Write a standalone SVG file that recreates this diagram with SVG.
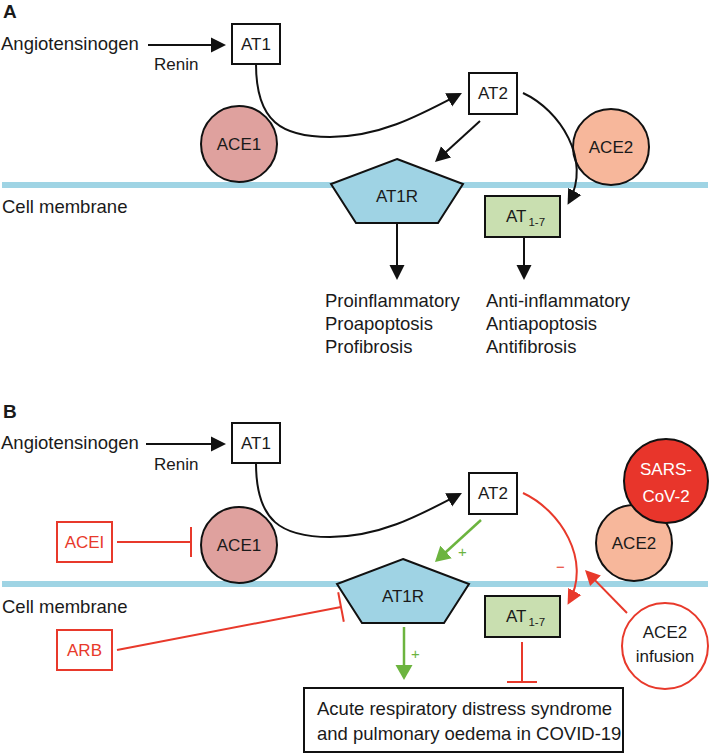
<svg xmlns="http://www.w3.org/2000/svg" width="710" height="754" viewBox="0 0 710 754">
<style>
text{font-family:"Liberation Sans",Arial,sans-serif;font-size:18.5px;fill:#1a1a1a}
.lbl{font-weight:bold;font-size:19px}
.c{text-anchor:middle}
.n{font-size:17px}
.s{font-size:11.5px}
.red{fill:#e8392b}
.grn{fill:#6cb43f}
.wht{fill:#ffffff}
.box{fill:#ffffff;stroke:#111;stroke-width:2}
.line{fill:none;stroke:#111;stroke-width:2}
.rline{fill:none;stroke:#e8392b;stroke-width:2}
.gline{fill:none;stroke:#6cb43f;stroke-width:2.5}
.mem{stroke:#9fd4e4;stroke-width:6}
</style>
<defs>
<marker id="ab" viewBox="0 0 16 16" markerUnits="userSpaceOnUse" markerWidth="16" markerHeight="16" refX="12" refY="8" orient="auto"><path d="M0,0.5 L15,8 L0,15.5 z" fill="#111"/></marker>
<marker id="ar" viewBox="0 0 16 16" markerUnits="userSpaceOnUse" markerWidth="16" markerHeight="16" refX="12" refY="8" orient="auto"><path d="M0,0.5 L15,8 L0,15.5 z" fill="#e8392b"/></marker>
<marker id="ag" viewBox="0 0 16 18" markerUnits="userSpaceOnUse" markerWidth="16" markerHeight="18" refX="12" refY="9" orient="auto"><path d="M0,0.5 L15,9 L0,17.5 z" fill="#6cb43f"/></marker>
</defs>

<!-- Panel A -->
<text class="lbl" x="3" y="18">A</text>
<line class="mem" x1="2" y1="185" x2="708" y2="185"/>
<text x="2" y="213">Cell membrane</text>

<g id="a-angiotensinogen"><text x="1" y="50">Angiotensinogen</text></g>
<g id="a-renin"><text x="154" y="70" style="font-size:17px">Renin</text></g>
<g id="a-at1"><rect class="box" x="232" y="24" width="48" height="40"/><text class="c n" x="256" y="50">AT1</text></g>
<g id="a-at2"><rect class="box" x="469" y="73" width="48" height="41"/><text class="c n" x="493" y="99">AT2</text></g>
<g id="a-ace1"><circle cx="239" cy="144" r="38" fill="#dfa19e" stroke="#111" stroke-width="2"/><text class="c n" x="239" y="150">ACE1</text></g>
<g id="a-ace2"><circle cx="611" cy="147" r="38" fill="#f7b79b" stroke="#111" stroke-width="2"/><text class="c n" x="611" y="153">ACE2</text></g>
<g id="a-at1r"><polygon points="397,159 463,184 438,223 356,223 331,184" fill="#9fd3e4" stroke="#111" stroke-width="2"/><text class="c n" x="397" y="202">AT1R</text></g>
<g id="a-at17"><rect x="485" y="196" width="75" height="41" fill="#c9dfb0" stroke="#111" stroke-width="2"/><text class="n" x="506" y="222">AT<tspan class="s" dx="2" dy="4">1-7</tspan></text></g>
<g id="a-pro"><text x="325" y="307">Proinflammatory</text><text x="325" y="330">Proapoptosis</text><text x="325" y="353">Profibrosis</text></g>
<g id="a-anti"><text x="486" y="307">Anti-inflammatory</text><text x="486" y="330">Antiapoptosis</text><text x="486" y="353">Antifibrosis</text></g>

<g id="a-connectors">
<line class="line" x1="148" y1="45" x2="223" y2="45" marker-end="url(#ab)"/>
<path class="line" d="M256,64 C256,122 282,137 330,137 C380,137 420,115 459.3,94.4" marker-end="url(#ab)"/>
<line class="line" x1="480" y1="121" x2="437.2" y2="160" marker-end="url(#ab)"/>
<path class="line" d="M523,93 C560,110 592,160 569,202" marker-end="url(#ab)"/>
<line class="line" x1="397" y1="223" x2="397" y2="277" marker-end="url(#ab)"/>
<line class="line" x1="524" y1="237" x2="524" y2="277" marker-end="url(#ab)"/>
</g>

<!-- Panel B -->
<text class="lbl" x="3" y="418">B</text>
<line class="mem" x1="2" y1="584" x2="708" y2="584"/>
<text x="2" y="613">Cell membrane</text>

<g id="b-angiotensinogen"><text x="1" y="449">Angiotensinogen</text></g>
<g id="b-renin"><text x="154" y="470" style="font-size:17px">Renin</text></g>
<g id="b-at1"><rect class="box" x="232" y="423" width="48" height="40"/><text class="c n" x="256" y="449">AT1</text></g>
<g id="b-at2"><rect class="box" x="469" y="473" width="48" height="41"/><text class="c n" x="493" y="499">AT2</text></g>
<g id="b-ace1"><circle cx="239" cy="545" r="38" fill="#dfa19e" stroke="#111" stroke-width="2"/><text class="c n" x="239" y="551">ACE1</text></g>
<g id="b-ace2"><circle cx="634" cy="543" r="38" fill="#f7b79b" stroke="#111" stroke-width="2"/><text class="c n" x="634" y="549">ACE2</text></g>
<g id="b-sars"><circle cx="666" cy="481" r="42" fill="#e8352b" stroke="#111" stroke-width="2"/><text class="c n wht" x="666" y="475">SARS-</text><text class="c n wht" x="666" y="502">CoV-2</text></g>
<g id="b-acei"><rect x="57" y="522" width="55" height="40" fill="#fff" stroke="#e8392b" stroke-width="2"/><text class="c n red" x="84.5" y="548">ACEI</text></g>
<g id="b-arb"><rect x="57" y="630" width="55" height="40" fill="#fff" stroke="#e8392b" stroke-width="2"/><text class="c n red" x="84.5" y="656">ARB</text></g>
<g id="b-at1r"><polygon points="403,559 469,584 444,623 362,623 337,584" fill="#9fd3e4" stroke="#111" stroke-width="2"/><text class="c n" x="403" y="602">AT1R</text></g>
<g id="b-at17"><rect x="485" y="596" width="75" height="41" fill="#c9dfb0" stroke="#111" stroke-width="2"/><text class="n" x="506" y="622">AT<tspan class="s" dx="2" dy="4">1-7</tspan></text></g>
<g id="b-infusion"><circle cx="665" cy="646" r="43" fill="#fff" stroke="#e8392b" stroke-width="2"/><text class="c n" x="665" y="638">ACE2</text><text class="c n" x="665" y="662">infusion</text></g>
<g id="b-ards"><rect class="box" x="304" y="688" width="319" height="64"/><text x="317" y="715">Acute respiratory distress syndrome</text><text x="317" y="740">and pulmonary oedema in COVID-19</text></g>

<g id="b-connectors">
<line class="line" x1="146" y1="444" x2="223" y2="444" marker-end="url(#ab)"/>
<path class="line" d="M256,463 C256,522 282,537 330,537 C380,537 420,515 459.3,494.4" marker-end="url(#ab)"/>
<line class="gline" x1="481" y1="520" x2="437.2" y2="560" marker-end="url(#ag)"/>
<text class="grn" x="458" y="557" style="font-size:15px">+</text>
<path class="rline" d="M523,493 C560,510 592,560 569,602" marker-end="url(#ar)"/>
<text class="red" x="556" y="572" style="font-size:15px">−</text>
<line class="rline" x1="627" y1="613" x2="587.1" y2="572.1" marker-end="url(#ar)"/>
<line class="gline" x1="404" y1="627" x2="404" y2="677" marker-end="url(#ag)"/>
<text class="grn" x="411" y="659" style="font-size:15px">+</text>
<line class="rline" x1="117" y1="542" x2="191" y2="542"/>
<line class="rline" x1="191" y1="527" x2="191" y2="557"/>
<line class="rline" x1="117" y1="650" x2="341" y2="607"/>
<line class="rline" x1="338.2" y1="592.3" x2="343.8" y2="621.7"/>
<line class="rline" x1="522" y1="642" x2="522" y2="682"/>
<line class="rline" x1="507" y1="682" x2="537" y2="682"/>
</g>
</svg>
